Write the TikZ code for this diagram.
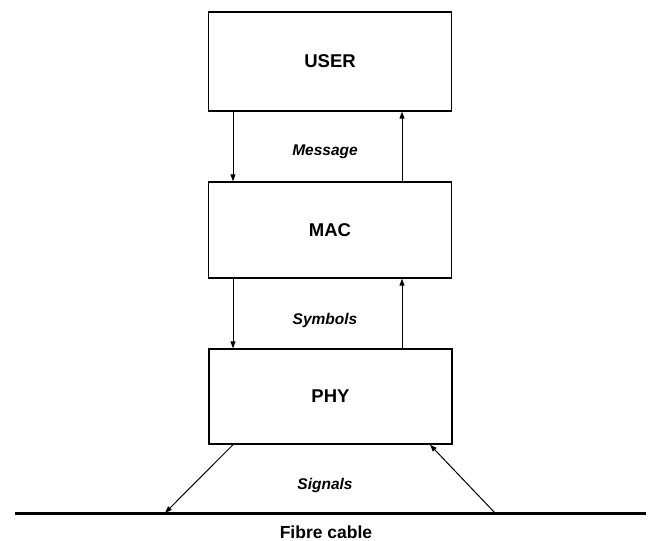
\documentclass[tikz,border=0pt]{standalone}
\usepackage{fontspec}
\setmainfont{Liberation Sans}
\usetikzlibrary{arrows.meta}
\begin{document}
\begin{tikzpicture}[x=1pt,y=-1pt,
  layer/.style={draw,line width=1.4pt,minimum width=243pt,inner sep=0pt,font=\fontsize{18.5}{20}\selectfont\bfseries},
  flow/.style={line width=1pt,-{Triangle[length=7pt,width=5pt]}},
  flowlabel/.style={font=\fontsize{15.5}{17}\selectfont\bfseries\itshape},
]
\useasboundingbox (0,0) rectangle (651,541);
\node[layer,minimum height=99pt] (user) at (330,61.5) {USER};
\node[layer,minimum height=96pt] (mac) at (330,230) {MAC};
\node[layer,minimum height=95pt] (phy) at (330.5,396.5) {PHY};
\draw[line width=3pt] (15,513) coordinate (cl) -- (646,513) coordinate (cr);
\coordinate (s1) at (165,513);
\coordinate (s2) at (495,513);
\draw[flow] (user.south -| 233,0) -- (mac.north -| 233,0);
\draw[flow] (mac.north -| 402,0) -- (user.south -| 402,0);
\draw[flow] (mac.south -| 233,0) -- (phy.north -| 233,0);
\draw[flow] (phy.north -| 402,0) -- (mac.south -| 402,0);
\draw[flow] (phy.south -| 233,0) -- (s1);
\draw[flow] (s2) -- (phy.south -| 430,0);
\node[flowlabel] (msg) at (325,152) {Message};
\node[flowlabel] (sym) at (325,320) {Symbols};
\node[flowlabel] (sig) at (325,485) {Signals};
\node[font=\fontsize{17.5}{19}\selectfont\bfseries] (fc) at (326,532) {Fibre cable};
\end{tikzpicture}
\end{document}
